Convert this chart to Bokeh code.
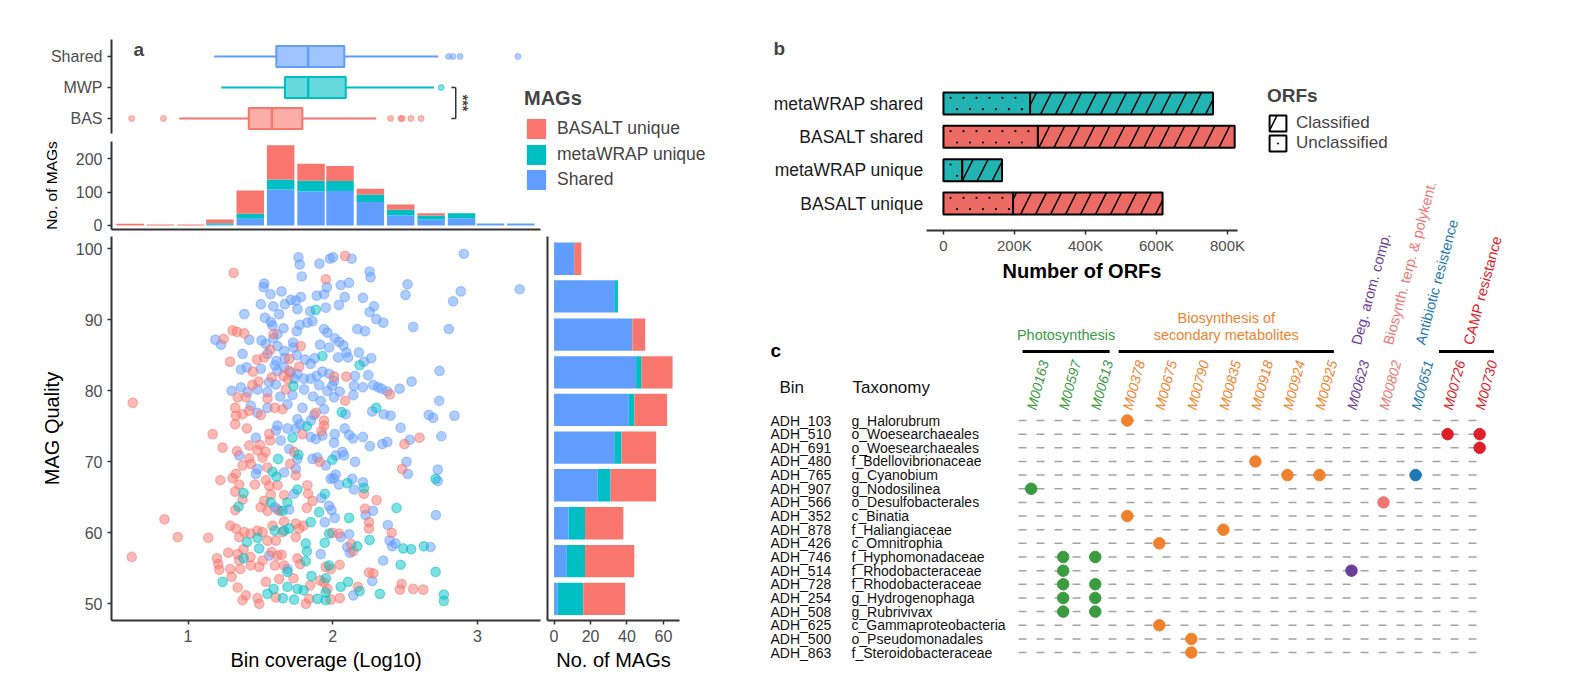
import math
from bokeh.plotting import figure
from bokeh.models import (ColumnDataSource, Range1d, FactorRange, Legend, LegendItem, Label,
                          GridBox, Spacer, FixedTicker)
from bokeh.layouts import row, column
from bokeh.embed import file_html
from bokeh.resources import INLINE
from bokeh.core.properties import value

FONT = "Liberation Sans"
RED, TEAL, BLUE = "#F8766D", "#00BFC4", "#619CFF"

# ---------------- panel a data ----------------
box_groups = ["BAS", "MWP", "Shared"]
box_wlo = [0.94, 1.23, 1.18]
box_q1 = [1.42, 1.67, 1.61]
box_med = [1.58, 1.83, 1.83]
box_q3 = [1.79, 2.09, 2.08]
box_whi = [2.30, 2.70, 2.73]
box_out_group = ["BAS"] * 7 + ["MWP"] + ["Shared"] * 4
box_out_x = [0.61, 0.83, 2.40, 2.47, 2.48, 2.54, 2.61, 2.75, 2.80, 2.83, 2.88, 3.28]
sig_x = 2.85
sig_pair = ["MWP", "BAS"]
sig_text = "***"

hist_centers = [0.60, 0.81, 1.02, 1.22, 1.43, 1.64, 1.85, 2.05, 2.26, 2.47, 2.68, 2.89, 3.09, 3.30]
hist_shared = [0, 0, 0, 2, 20, 108, 102, 103, 70, 30, 18, 22, 6, 6]
hist_mwp = [0, 0, 0, 5, 15, 30, 32, 30, 23, 17, 12, 15, 0, 0]
hist_bas = [5, 3, 3, 11, 70, 102, 51, 45, 17, 16, 7, 0, 0, 0]
hist_ticks = [0, 100, 200]

qual_centers = [50.7, 56.0, 61.35, 66.7, 72.0, 77.3, 82.6, 87.9, 93.3, 98.6]
qual_shared = [2, 7, 8, 24, 33, 41, 45, 43, 33, 11]
qual_mwp = [14, 10, 9, 7, 4, 3, 3, 0, 2, 0]
qual_bas = [23, 27, 21, 25, 19, 18, 17, 7, 0, 4]
qual_ticks = [0, 20, 40, 60]

cov_ticks = [1, 2, 3]
quality_ticks = [50, 60, 70, 80, 90, 100]

shared_pts = [
    (1.763, 98.8), (1.772, 97.8), (1.908, 97.9), (1.786, 96.1), (1.98, 98.6), (1.526, 95.1), (1.522, 94.6),
    (1.57, 93.6), (1.646, 94.0), (1.503, 92.2), (1.589, 91.9), (1.669, 92.2), (1.71, 92.8), (1.745, 92.7),
    (1.78, 93.2), (1.756, 91.5), (1.63, 90.8), (1.389, 90.8), (1.531, 90.3), (1.572, 89.7), (1.584, 89.2),
    (1.66, 88.8), (1.618, 88.0), (1.59, 87.4), (1.423, 87.2), (1.189, 87.2), (1.228, 86.5), (1.508, 87.1),
    (1.538, 86.6), (1.618, 86.3), (1.664, 85.6), (1.726, 86.8), (1.729, 86.1), (1.752, 88.4), (1.772, 89.3),
    (1.825, 89.6), (1.86, 89.8), (1.89, 93.4), (1.94, 93.6), (1.959, 94.6), (1.952, 91.7), (1.844, 91.2),
    (1.94, 88.7), (1.963, 88.2), (1.913, 86.5), (1.975, 86.1), (1.377, 85.2), (1.549, 85.2), (1.611, 84.2),
    (1.669, 84.6), (1.752, 85.0), (1.809, 84.4), (1.848, 83.8), (1.876, 84.6), (1.6, 83.6), (1.365, 83.0),
    (1.405, 83.3), (1.503, 83.1), (1.618, 82.8), (1.664, 83.3), (1.71, 82.6), (1.756, 82.4), (1.802, 81.7),
    (1.848, 81.7), (1.889, 82.1), (1.929, 82.7), (1.975, 82.4), (1.733, 81.7), (1.56, 81.2), (1.607, 80.9),
    (1.301, 80.0), (1.365, 80.5), (1.411, 79.8), (1.48, 80.2), (1.549, 79.8), (1.906, 80.8), (1.802, 80.2),
    (1.864, 79.2), (1.917, 78.6), (1.637, 79.2), (1.722, 79.4), (1.434, 77.9), (1.48, 76.9), (1.549, 77.6),
    (1.687, 78.1), (1.791, 77.6), (1.871, 76.6), (1.94, 77.4), (1.756, 76.0), (1.848, 75.8),
    (2.002, 98.8), (2.131, 98.6), (2.255, 96.8), (2.262, 96.0), (2.055, 94.9), (2.112, 95.2), (2.083, 93.2),
    (2.209, 93.1), (2.043, 92.1), (2.285, 91.9), (2.255, 91.1), (2.517, 95.0), (2.503, 93.5), (2.885, 94.0),
    (2.832, 92.6), (3.292, 94.3), (2.906, 99.3), (2.301, 90.1), (2.349, 89.6), (2.556, 89.0), (2.802, 88.7),
    (2.17, 88.7), (2.223, 88.4), (2.014, 87.4), (2.043, 86.9), (2.073, 86.4), (2.094, 85.4), (2.181, 85.4),
    (2.037, 84.7), (2.106, 84.7), (2.266, 84.6), (2.216, 84.1), (2.246, 82.2), (2.154, 82.1), (2.009, 81.4),
    (1.997, 80.7), (1.963, 80.0), (2.048, 79.9), (2.009, 79.1), (2.147, 80.7), (2.209, 80.5), (2.28, 80.8),
    (2.313, 80.5), (2.338, 80.3), (2.377, 79.9), (2.462, 80.3), (2.545, 81.3), (2.142, 79.4), (2.738, 82.8),
    (2.736, 78.6), (2.089, 76.7), (2.273, 77.1), (2.353, 76.7), (2.4, 76.5), (2.664, 76.6), (2.694, 76.2),
    (2.841, 76.5),
    (1.469, 73.4), (1.354, 70.9), (1.607, 74.4), (1.618, 75.1), (1.687, 74.7), (1.641, 73.0), (1.699, 71.8),
    (1.745, 74.7), (1.775, 75.3), (1.848, 73.5), (1.883, 73.2), (1.929, 73.7), (1.86, 70.4), (1.894, 70.6),
    (1.952, 69.5), (1.756, 70.4), (1.469, 68.3), (1.48, 69.0), (1.664, 68.5), (1.745, 69.0), (1.733, 65.5),
    (1.922, 64.9), (1.986, 67.6), (1.6, 63.6), (1.618, 63.3), (1.699, 63.3), (1.975, 63.8), (1.561, 56.8),
    (1.917, 57.0), (1.687, 54.9),
    (2.014, 73.9), (2.083, 74.7), (2.113, 73.8), (2.14, 73.3), (2.209, 73.5), (2.009, 72.7), (2.257, 72.2),
    (2.342, 72.5), (2.377, 72.8), (2.469, 74.8), (2.533, 73.1), (2.751, 73.6), (2.067, 71.4), (2.021, 70.9),
    (2.078, 70.9), (2.154, 70.0), (2.51, 70.0), (2.519, 68.3), (2.726, 68.9), (2.726, 67.3), (2.005, 67.7),
    (2.02, 68.2), (2.043, 66.8), (2.135, 67.6), (2.147, 66.1), (2.209, 67.1), (1.991, 63.2), (2.014, 62.1),
    (2.278, 63.1), (2.227, 62.5), (2.381, 61.1), (2.713, 62.5), (2.113, 59.8), (2.055, 59.4), (2.101, 58.0),
    (2.119, 57.2), (2.393, 58.9), (2.411, 58.1), (2.434, 58.5), (2.676, 58.0), (2.349, 56.1), (2.273, 53.2),
    (2.142, 51.2), (1.945, 61.5),
]
mwp_pts = [
    (1.883, 91.4), (1.929, 84.9), (1.729, 80.7), (2.186, 83.6), (2.062, 77.0), (2.301, 77.6), (1.722, 73.4),
    (1.821, 75.0), (1.763, 71.0), (1.623, 70.4), (1.584, 68.6), (1.611, 67.9), (1.384, 65.6), (1.756, 66.1),
    (1.946, 65.5), (1.687, 64.3), (1.572, 64.3), (1.349, 63.7), (1.653, 63.1), (1.906, 62.9), (1.848, 61.5),
    (1.699, 60.6), (1.6, 60.3), (1.664, 60.3), (1.975, 59.9), (1.407, 58.7), (1.48, 59.3), (1.492, 57.8),
    (1.814, 58.5), (1.821, 57.4), (1.945, 58.6), (1.384, 56.4), (1.814, 56.0), (1.975, 55.4), (1.687, 54.5),
    (1.853, 53.9), (1.239, 53.1), (1.591, 52.1), (1.549, 51.4), (1.655, 50.8), (1.687, 52.4), (1.733, 50.6),
    (1.756, 52.1), (1.798, 51.9), (1.894, 50.7), (1.952, 53.6), (1.952, 50.5), (1.997, 70.3), (2.101, 67.0),
    (2.216, 66.3), (2.441, 63.5), (2.113, 62.1), (2.255, 59.0), (2.17, 58.1), (2.487, 57.8), (2.542, 57.7),
    (2.63, 58.1), (2.711, 67.6), (2.469, 55.5), (2.711, 54.5), (2.106, 53.1), (2.055, 52.4), (2.186, 51.8),
    (2.326, 51.4), (2.768, 51.3), (2.768, 50.4), (1.951, 51.6),
]
bas_pts = [
    (0.618, 78.3), (1.315, 96.6), (1.952, 95.7), (1.308, 88.5), (1.338, 88.3), (1.389, 88.1), (1.246, 87.3),
    (1.591, 88.0), (1.779, 86.3), (1.29, 84.1), (1.476, 84.4), (1.526, 84.7), (1.568, 85.8), (1.699, 84.5),
    (1.768, 83.4), (1.448, 82.7), (1.487, 81.3), (1.444, 80.8), (1.579, 81.9), (1.66, 82.1), (1.692, 81.6),
    (1.699, 82.8), (1.676, 80.2), (1.343, 79.1), (1.4, 79.1), (1.326, 77.6), (1.549, 78.9), (1.6, 77.6),
    (1.653, 77.4), (1.883, 76.9), (1.331, 76.5), (1.377, 76.7), (1.423, 77.2), (1.503, 76.6), (1.94, 75.8),
    (2.085, 99.0), (2.009, 82.0), (2.094, 82.0), (2.085, 78.6), (2.395, 79.5),
    (1.17, 73.9), (1.239, 72.0), (1.338, 71.5), (1.423, 72.3), (1.497, 72.4), (1.407, 74.7), (1.326, 75.3),
    (1.561, 73.9), (1.568, 73.0), (1.48, 71.6), (1.536, 71.4), (1.423, 70.5), (1.377, 69.5), (1.434, 69.7),
    (1.515, 70.6), (1.549, 69.2), (1.331, 68.3), (1.308, 67.7), (1.223, 67.4), (1.354, 66.8), (1.462, 66.8),
    (1.538, 67.4), (1.561, 66.6), (1.618, 66.7), (1.326, 65.8), (1.664, 65.3), (1.745, 68.1), (1.733, 71.4),
    (1.706, 69.7), (1.825, 66.7), (1.83, 65.5), (1.377, 64.7), (1.326, 63.2), (1.503, 63.6), (1.526, 64.5),
    (1.572, 65.4), (1.549, 63.1), (1.63, 63.1), (1.664, 61.6), (1.821, 63.5), (1.86, 64.5), (1.292, 61.0),
    (1.331, 60.6), (1.389, 60.1), (1.432, 59.9), (1.48, 60.3), (1.515, 60.1), (1.584, 61.0), (1.354, 59.4),
    (1.549, 58.9), (1.607, 58.9), (1.653, 60.1), (1.745, 61.3), (1.768, 60.6), (1.798, 61.0), (1.745, 59.4),
    (0.929, 59.4), (1.14, 59.3), (0.837, 61.9), (0.611, 56.6), (1.278, 57.2), (1.2, 56.4), (1.209, 55.6),
    (1.216, 54.8), (1.292, 54.9), (1.343, 57.0), (1.354, 56.1), (1.384, 57.7), (1.432, 56.6), (1.515, 56.1),
    (1.492, 55.2), (1.577, 57.3), (1.618, 56.8), (1.646, 56.9), (1.6, 55.4), (1.664, 55.4), (1.756, 56.4),
    (1.775, 55.6), (1.361, 54.9), (1.301, 53.8), (1.343, 52.3), (1.434, 55.4), (1.538, 53.1), (1.63, 53.5),
    (1.729, 53.6), (1.48, 50.8), (1.492, 50.0), (1.377, 50.5), (1.4, 51.2), (1.607, 50.9), (1.814, 50.0),
    (1.837, 50.7), (1.952, 55.2), (1.94, 53.0), (1.913, 53.3), (1.963, 52.1), (1.844, 52.6), (1.94, 75.1),
    (1.791, 73.9), (1.922, 74.3), (1.91, 70.0),
    (2.6, 73.4), (2.496, 72.5), (2.48, 69.0), (2.216, 65.5), (2.303, 64.6), (2.223, 63.4), (2.251, 61.5),
    (2.251, 60.6), (2.407, 60.0), (1.997, 60.0), (2.043, 59.9), (2.128, 58.4), (2.14, 57.4), (2.048, 55.5),
    (1.986, 54.9), (2.251, 54.4), (2.281, 54.3), (2.476, 52.8), (2.464, 52.0), (2.556, 52.1), (2.625, 52.0),
    (2.174, 52.4), (2.048, 50.8), (1.986, 50.6),
]

# ---------------- panel b data ----------------
orf_cats = ["metaWRAP shared", "BASALT shared", "metaWRAP unique", "BASALT unique"]
orf_unclassified = [244000, 266000, 53000, 196000]
orf_total = [759000, 820000, 165000, 617000]
orf_colors = ["#22B3B3", "#EC6B65", "#22B3B3", "#EC6B65"]
orf_ticks = [0, 200000, 400000, 600000, 800000]
orf_tick_labels = ["0", "200K", "400K", "600K", "800K"]

# ---------------- panel c data ----------------
bins = ["ADH_103", "ADH_510", "ADH_691", "ADH_480", "ADH_765", "ADH_907", "ADH_566", "ADH_352", "ADH_878",
        "ADH_426", "ADH_746", "ADH_514", "ADH_728", "ADH_254", "ADH_508", "ADH_625", "ADH_500", "ADH_863"]
taxa = ["g_Halorubrum", "o_Woesearchaeales", "o_Woesearchaeales", "f_Bdellovibrionaceae", "g_Cyanobium",
        "g_Nodosilinea", "o_Desulfobacterales", "c_Binatia", "f_Haliangiaceae", "c_Omnitrophia",
        "f_Hyphomonadaceae", "f_Rhodobacteraceae", "f_Rhodobacteraceae", "g_Hydrogenophaga", "g_Rubrivivax",
        "c_Gammaproteobacteria", "o_Pseudomonadales", "f_Steroidobacteraceae"]
modules = ["M00163", "M00597", "M00613", "M00378", "M00675", "M00790", "M00835", "M00918", "M00924",
           "M00925", "M00623", "M00802", "M00651", "M00726", "M00730"]
groups = ["Photosynthesis", "Biosynthesis of\nsecondary metabolites", "Deg. arom. comp.",
          "Biosynth. terp. & polykent.", "Antibiotic resistence", "CAMP resistance"]
group_colors = ["#3A9B3F", "#F0822E", "#6A3D9A", "#EF7773", "#1F78B4", "#DE2128"]
group_rotated = [False, False, True, True, True, True]
module_group = [groups[0]] * 3 + [groups[1]] * 7 + [groups[2], groups[3], groups[4], groups[5], groups[5]]
hit_bins = ["ADH_103", "ADH_510", "ADH_510", "ADH_691", "ADH_480", "ADH_765", "ADH_765", "ADH_765",
            "ADH_907", "ADH_566", "ADH_352", "ADH_878", "ADH_426", "ADH_746", "ADH_746", "ADH_514",
            "ADH_514", "ADH_728", "ADH_728", "ADH_254", "ADH_254", "ADH_508", "ADH_508", "ADH_625",
            "ADH_500", "ADH_863"]
hit_modules = ["M00378", "M00726", "M00730", "M00730", "M00918", "M00924", "M00925", "M00651",
               "M00163", "M00802", "M00378", "M00835", "M00675", "M00597", "M00613", "M00597",
               "M00623", "M00597", "M00613", "M00597", "M00613", "M00597", "M00613", "M00675",
               "M00790", "M00790"]


def style_axis(ax, size="16px"):
    ax.axis_line_color = "#333333"
    ax.axis_line_width = 2
    ax.major_tick_line_color = "#333333"
    ax.major_tick_line_width = 1.5
    ax.major_tick_out = 4
    ax.major_tick_in = 0
    ax.minor_tick_line_color = None
    ax.major_label_text_font = FONT
    ax.major_label_text_font_size = size
    ax.major_label_text_color = "#4D4D4D"
    ax.axis_label_text_font = FONT
    ax.axis_label_text_font_size = "20px"
    ax.axis_label_text_font_style = "normal"
    ax.axis_label_text_color = "black"


def bare_axis(ax):
    style_axis(ax)
    ax.ticker = FixedTicker(ticks=[])
    ax.major_tick_out = 0
    ax.major_label_standoff = 0


def clean(p):
    p.grid.visible = False
    p.outline_line_color = None


def style_legend(lg, gw, gh, size, standoff, title_size):
    lg.glyph_width = gw
    lg.glyph_height = gh
    lg.label_height = gh
    lg.spacing = 0
    lg.padding = 0
    lg.margin = 0
    lg.border_line_color = None
    lg.background_fill_alpha = 0
    lg.label_text_font = FONT
    lg.label_text_font_size = size
    lg.label_standoff = standoff
    lg.inactive_fill_alpha = 0
    lg.title_text_font = FONT
    lg.title_text_font_style = "bold"
    lg.title_text_font_size = title_size
    lg.title_standoff = 6


common = dict(output_backend="svg", toolbar_location=None)
PX_PER_COV = 144.7
xr = Range1d(0.471, 3.436)                                   # scatter coverage axis
xr_wide = Range1d(0.471, 0.471 + (760 - 111) / PX_PER_COV)   # same scale, frame widened for legend
yq = Range1d(47.65, 101.73)

hist_src = ColumnDataSource(dict(center=hist_centers, shared=hist_shared, mwp=hist_mwp, bas=hist_bas))

# ---- box plot ----
box_pos = list(range(1, len(box_groups) + 1))
gpos = dict(zip(box_groups, box_pos))
p_box = figure(width=752, height=133, x_range=xr_wide, y_range=Range1d(0.258, 3.548), title=None,
               min_border_left=103, min_border_right=0, min_border_top=31, min_border_bottom=0, **common)
clean(p_box)
p_box.xaxis.visible = False
style_axis(p_box.yaxis[0])
p_box.yaxis.ticker = FixedTicker(ticks=box_pos)
p_box.yaxis.major_label_overrides = {p: g for p, g in zip(box_pos, box_groups)}
p_box.yaxis.bounds = (0.516, 3.548)
box_src = ColumnDataSource(dict(pos=box_pos, wlo=box_wlo, q1=box_q1, med=box_med, q3=box_q3,
                                whi=box_whi, color=[RED, TEAL, BLUE]))
p_box.segment(x0="wlo", y0="pos", x1="q1", y1="pos", line_color="color", line_width=2, source=box_src)
p_box.segment(x0="q3", y0="pos", x1="whi", y1="pos", line_color="color", line_width=2, source=box_src)
p_box.hbar(y="pos", left="q1", right="q3", height=0.68, fill_color="color", fill_alpha=0.6,
           line_color="color", line_width=2, source=box_src)
p_box.rect(x="med", y="pos", width=2.5, width_units="screen", height=0.68, fill_color="color",
           line_color=None, source=box_src)
out_colors = [dict(zip(box_groups, [RED, TEAL, BLUE]))[g] for g in box_out_group]
p_box.scatter(x=box_out_x, y=[gpos[g] for g in box_out_group], size=6, fill_color=out_colors,
              line_color=out_colors, fill_alpha=0.5, line_alpha=0.5)
sig_y = [gpos[g] for g in sig_pair]
p_box.segment(x0=[sig_x], y0=[sig_y[0]], x1=[sig_x], y1=[sig_y[1]], line_color="#333333", line_width=1.5)
p_box.segment(x0=[sig_x - 0.03] * 2, y0=sig_y, x1=[sig_x] * 2, y1=sig_y, line_color="#333333",
              line_width=1.5)
p_box.add_layout(Label(x=sig_x + 0.05, y=sum(sig_y) / 2, text=sig_text, angle=-math.pi / 2,
                       text_align="center", text_baseline="middle", text_font=FONT, text_font_size="14px",
                       text_font_style="bold"))
p_box.add_layout(Label(x=22, y=92, x_units="screen", y_units="screen", text="a", text_font=FONT,
                       text_font_size="19px", text_font_style="bold", text_baseline="alphabetic"))
r_leg_bas = p_box.vbar(x="center", top="bas", width=0.19, fill_color=RED, line_color=None, source=hist_src,
                       visible=False)
lg1 = Legend(items=[LegendItem(label="BASALT unique", renderers=[r_leg_bas])], title="MAGs", location=(413, 0))
style_legend(lg1, 24, 25, "17.5px", 9, "20px")
p_box.add_layout(lg1)

# ---- top histogram ----
p_hist = figure(width=752, height=95, x_range=xr_wide, y_range=Range1d(-12, 251.5), title=None,
                min_border_left=103, min_border_right=0, min_border_top=0, min_border_bottom=7, **common)
clean(p_hist)
hr = p_hist.vbar_stack(["shared", "mwp", "bas"], x="center", width=0.19, fill_color=[BLUE, TEAL, RED],
                       line_color=None, source=hist_src)
style_axis(p_hist.yaxis[0])
p_hist.yaxis.ticker = FixedTicker(ticks=hist_ticks)
p_hist.yaxis.axis_label = "No. of MAGs"
p_hist.yaxis.axis_label_text_font_size = "15.5px"
p_hist.yaxis.axis_label_standoff = 13
bare_axis(p_hist.xaxis[0])
p_hist.xaxis.bounds = (xr.start, xr.end)
lg2 = Legend(items=[LegendItem(label="metaWRAP unique", renderers=[hr[1]]),
                    LegendItem(label="Shared", renderers=[hr[0]])], location=(413, 37))
style_legend(lg2, 24, 25, "17.5px", 9, "20px")
p_hist.add_layout(lg2)

# ---- scatter ----
p_sc = figure(width=535, height=438, x_range=xr, y_range=yq, title=None, min_border_left=103,
              min_border_right=3, min_border_top=0, min_border_bottom=54, **common)
clean(p_sc)
for pts, col in ((shared_pts, BLUE), (bas_pts, RED), (mwp_pts, TEAL)):
    p_sc.scatter(x=[p[0] for p in pts], y=[p[1] for p in pts], size=9.5, fill_color=col, fill_alpha=0.5,
                 line_color=col, line_alpha=0.5, line_width=1.2)
style_axis(p_sc.xaxis[0])
style_axis(p_sc.yaxis[0])
p_sc.xaxis.ticker = FixedTicker(ticks=cov_ticks)
p_sc.yaxis.ticker = FixedTicker(ticks=quality_ticks)
p_sc.xaxis.axis_label = "Bin coverage (Log10)"
p_sc.yaxis.axis_label = "MAG Quality"
p_sc.yaxis.axis_label_standoff = 10
p_sc.xaxis.axis_label_standoff = 4

# ---- right histogram ----
qual_src = ColumnDataSource(dict(center=qual_centers, shared=qual_shared, mwp=qual_mwp, bas=qual_bas))
p_rh = figure(width=217, height=438, x_range=Range1d(-3.6, 68.8), y_range=yq, title=None, min_border_left=4,
              min_border_right=81, min_border_top=0, min_border_bottom=54, **common)
clean(p_rh)
p_rh.hbar_stack(["shared", "mwp", "bas"], y="center", height=4.55, fill_color=[BLUE, TEAL, RED],
                line_color=None, source=qual_src)
style_axis(p_rh.xaxis[0])
p_rh.xaxis.ticker = FixedTicker(ticks=qual_ticks)
p_rh.xaxis.axis_label = "No. of MAGs"
p_rh.xaxis.axis_label_standoff = 4
bare_axis(p_rh.yaxis[0])

left = column(p_box, p_hist, row(p_sc, p_rh, spacing=0), spacing=0)

# ---------------- panel b ----------------
orf_src = ColumnDataSource(dict(cat=orf_cats, uncl=orf_unclassified, total=orf_total, color=orf_colors))
p_b = figure(width=480, height=282, x_range=Range1d(-47700, 828000),
             y_range=FactorRange(factors=orf_cats[::-1], range_padding=0.31, range_padding_units="absolute"),
             min_border_left=155, min_border_right=13, min_border_top=68, min_border_bottom=60, **common)
clean(p_b)
p_b.hbar(y="cat", left=0, right="uncl", height=0.66, fill_color="color", line_color="black", line_width=2,
         source=orf_src)
p_b.hbar(y="cat", left="uncl", right="total", height=0.66, fill_color="color", line_color="black",
         line_width=2, hatch_pattern="right_diagonal_line", hatch_color="black", hatch_scale=30,
         hatch_weight=1.5, source=orf_src)

# sparse dot texture for the "Unclassified" segments (hatch emulation derived from the bar extents)
DOT_STEP = 36500          # ~13 px along x
dot_x, dot_y = [], []
for cat, u in zip(orf_cats, orf_unclassified):
    for r, off in enumerate((0.17, -0.17)):
        x = DOT_STEP * (0.55 + 0.5 * r)
        while x < u - 9000:
            dot_x.append(x)
            dot_y.append((cat, off))
            x += DOT_STEP
p_b.scatter(x=dot_x, y=dot_y, size=2.2, fill_color="black", line_color=None)

style_axis(p_b.xaxis[0], "15px")
p_b.xaxis.ticker = FixedTicker(ticks=orf_ticks)
p_b.xaxis.major_label_overrides = dict(zip(orf_ticks, orf_tick_labels))
p_b.xaxis.axis_label = "Number of ORFs"
p_b.xaxis.axis_label_text_font_style = "bold"
p_b.xaxis.axis_label_standoff = 3
p_b.xaxis.major_label_standoff = 2
style_axis(p_b.yaxis[0], "17.5px")
p_b.yaxis.axis_line_color = None
p_b.yaxis.major_tick_line_color = None
p_b.yaxis.major_tick_out = 0
p_b.yaxis.major_label_standoff = 3
p_b.yaxis.major_label_text_color = "#1A1A1A"
p_b.title.text = "b"
p_b.title.align = "left"
p_b.title.offset = -153
p_b.title.standoff = 35
p_b.title.text_font = FONT
p_b.title.text_font_size = "19px"
p_b.title.text_font_style = "bold"

# legend figure for panel b
p_bl = figure(width=316, height=152, x_range=Range1d(2e6, 3e6), y_range=FactorRange(factors=orf_cats),
              x_axis_location=None, y_axis_location=None, min_border=0, title=None, **common)
clean(p_bl)
r_cls = p_bl.hbar(y="cat", left="uncl", right="total", height=0.66, fill_color="white", line_color="black",
                  line_width=2, hatch_pattern="right_diagonal_line", hatch_color="black", hatch_scale=40,
                  hatch_weight=1.5, source=orf_src, visible=False)
r_unc = p_bl.hbar(y="cat", left=0, right="uncl", height=0.66, fill_color="white", line_color="black",
                  line_width=2, source=orf_src, visible=False)
r_unc_dot = p_bl.scatter(x="uncl", y="cat", marker="dot", size=8, line_color="black", fill_color="black",
                         line_width=1, source=orf_src, visible=False)
lg3 = Legend(items=[LegendItem(label="Classified", renderers=[r_cls]),
                    LegendItem(label="Unclassified", renderers=[r_unc, r_unc_dot])], title="ORFs",
             location=(17, 7))
style_legend(lg3, 21, 20, "17px", 8, "19px")
p_bl.add_layout(lg3)

# ---------------- panel c ----------------
COL0_PX, COL_STEP = 1030.7, 32.03
ROW0_PX, ROW_STEP = 420.0, 13.65
SPLIT_PX = 1342


def kx(px):
    return (px - COL0_PX) / COL_STEP


def ry(py):
    return (py - ROW0_PX) / ROW_STEP


def cfig(x0, x1, y0, y1):
    p = figure(width=int(x1 - x0), height=int(y1 - y0), x_range=Range1d(kx(x0), kx(x1)),
               y_range=Range1d(ry(y1), ry(y0)), x_axis_location=None, y_axis_location=None,
               min_border=0, title=None, **common)
    clean(p)
    return p


def tf(size, style="normal"):
    return dict(text_font=value(FONT), text_font_size=size, text_font_style=style)


def draw_c(p, cols, with_rows):
    nb = len(bins)
    rows_i = list(range(nb))
    p.segment(x0=[kx(1018)] * nb, y0=rows_i, x1=[kx(1486)] * nb, y1=rows_i, line_color="#A3A3A3",
              line_width=1.5, line_dash="8 10")
    mcol = [group_colors[groups.index(g)] for g in module_group]
    sel = [i for i, m in enumerate(hit_modules) if modules.index(m) in cols]
    xs = [modules.index(hit_modules[i]) for i in sel]
    ys = [bins.index(hit_bins[i]) for i in sel]
    cs = [mcol[k] for k in xs]
    p.scatter(x=xs, y=ys, size=11.5, fill_color=cs, line_color=cs)
    ks = [k for k in range(len(modules)) if k in cols]
    p.text(x=[k for k in ks], y=[ry(409)] * len(ks), text=[modules[k] for k in ks],
           angle=75, angle_units="deg", text_color=[mcol[k] for k in ks], text_align="left",
           text_baseline="alphabetic", **tf("14px", "italic"))
    for gi, g in enumerate(groups):
        idx = [k for k, mg in enumerate(module_group) if mg == g]
        if idx[0] not in cols:
            continue
        col = group_colors[gi]
        if len(idx) > 1:
            bx0, bx1 = min(idx) - 0.27, max(idx) + 0.45
            p.segment(x0=[bx0], y0=[ry(351)], x1=[bx1], y1=[ry(351)], line_color="black", line_width=3)
        if group_rotated[gi]:
            p.text(x=[sum(idx) / len(idx) + 4.5 / COL_STEP], y=[ry(344)], text=[g], angle=75,
                   angle_units="deg", text_color=col, text_align="left", text_baseline="alphabetic",
                   **tf("14.5px"))
        else:
            lines = g.split("\n")
            cx = (min(idx) - 0.27 + max(idx) + 0.45) / 2
            n = len(lines)
            p.text(x=[cx] * n, y=[ry(334 - (n - 1 - i) * 17) for i in range(n)], text=lines,
                   text_color=col, text_align="center", text_baseline="alphabetic", **tf("14.5px"))
    if with_rows:
        p.text(x=[kx(770)] * nb, y=rows_i, text=bins, text_color="#111111", text_align="left",
               text_baseline="middle", **tf("14px"))
        p.text(x=[kx(851)] * nb, y=rows_i, text=taxa, text_color="#111111", text_align="left",
               text_baseline="middle", **tf("14px"))
        p.text(x=[kx(779), kx(852)], y=[ry(387)] * 2, text=["Bin", "Taxonomy"], text_color="#111111",
               text_align="left", text_baseline="middle", **tf("17px"))
        p.text(x=[kx(770)], y=[ry(350)], text=["c"], text_color="black", text_align="left",
               text_baseline="alphabetic", **tf("19px", "bold"))


SPLIT_COL = 10
c_left = cfig(760, SPLIT_PX, 290, 674)
draw_c(c_left, set(range(0, SPLIT_COL)), True)
c_right = cfig(SPLIT_PX, 1566, 160, 674)
draw_c(c_right, set(range(SPLIT_COL, len(modules))), False)

right = GridBox(children=[
    (Spacer(width=10, height=282), 0, 0, 2, 1),
    (p_b, 0, 1, 2, 1),
    (p_bl, 0, 2, 1, 2),
    (Spacer(width=SPLIT_PX - 1250, height=130), 1, 2),
    (c_right, 1, 3, 2, 1),
    (c_left, 2, 0, 1, 3),
], spacing=0)

layout = column(Spacer(width=1566, height=8), row(Spacer(width=8, height=666), left, right, spacing=0),
                spacing=0)
open("out.html", "w").write(file_html(layout, INLINE))
